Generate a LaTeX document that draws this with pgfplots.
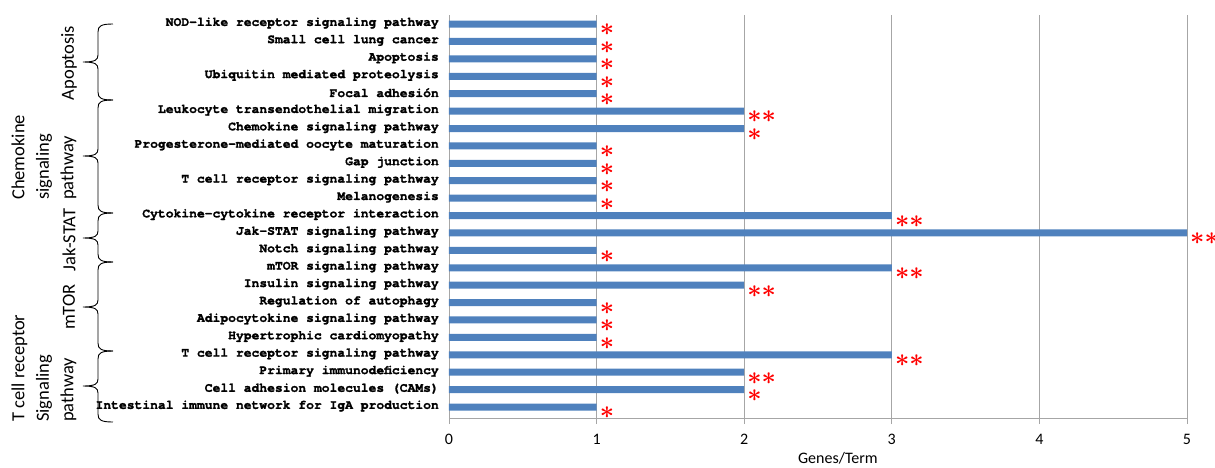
\documentclass[border=0pt]{standalone}
\usepackage{pgfplots}
\pgfplotsset{compat=1.18}
\usepackage{fontspec}
\setmainfont{Carlito}
\newfontfamily\cour[FakeBold=1.6]{texgyrecursor-bold.otf}
\definecolor{barblue}{HTML}{4F81BD}
\definecolor{gridgray}{HTML}{A6A6A6}
\newcommand{\gbrace}[3]{%
  \draw[black, line width=0.9pt] (113,#1) .. controls (101,#1) and (98,#1+2) .. (98,#1+8)
    -- (98,#2-7) .. controls (98,#2-2) and (95,#2) .. (83,#2)
    .. controls (95,#2) and (98,#2+2) .. (98,#2+7)
    -- (98,#3-8) .. controls (98,#3-2) and (101,#3) .. (113,#3);}
\begin{document}
\begin{tikzpicture}
\begin{axis}[
  scale only axis, width=738pt, height=403pt,
  xbar, bar width=7pt,
  xmin=0, xmax=5, ymin=-0.63, ymax=22.52,
  xtick={0,...,5}, ytick={0,...,22},
  yticklabels={Intestinal immune network for IgA production,
    Cell adhesion molecules (CAMs),
    Primary immunodeficiency,
    T cell receptor signaling pathway,
    Hypertrophic cardiomyopathy,
    Adipocytokine signaling pathway,
    Regulation of autophagy,
    Insulin signaling pathway,
    mTOR signaling pathway,
    Notch signaling pathway,
    Jak-STAT signaling pathway,
    Cytokine-cytokine receptor interaction,
    Melanogenesis,
    T cell receptor signaling pathway,
    Gap junction,
    Progesterone-mediated oocyte maturation,
    Chemokine signaling pathway,
    Leukocyte transendothelial migration,
    Focal adhesión,
    Ubiquitin mediated proteolysis,
    Apoptosis,
    Small cell lung cancer,
    NOD-like receptor signaling pathway},
  axis lines*=left,
  axis line style={gridgray, line width=0.8pt},
  xmajorgrids, grid style={gridgray, line width=0.8pt},
  tick align=outside, major tick length=6pt,
  x tick style={gridgray, line width=0.8pt},
  y tick style={draw=none},
  tick label style={font=\fontsize{16}{16}\selectfont},
  xticklabel style={yshift=-7pt},
  /pgf/number format/assume math mode=true,
  yticklabel style={font=\cour\fontsize{13}{13}\selectfont, inner xsep=0pt, xshift=-4pt, yshift=1pt},
  xlabel={Genes/Term},
  xlabel style={font=\fontsize{16}{16}\selectfont, at={(axis description cs:0.527,-0.0993)}, anchor=center},
  clip=false,
  nodes near coords, point meta=explicit symbolic,
  every node near coord/.append style={red, font=\boldmath\fontsize{25}{25}\selectfont, anchor=west, xshift=2pt, yshift=-6pt, inner sep=1pt},
]
\addplot[fill=barblue, draw=none] coordinates {
  (1,0) [$\ast$]
  (2,1) [$\ast$]
  (2,2) [$\ast\ast$]
  (3,3) [$\ast\ast$]
  (1,4) [$\ast$]
  (1,5) [$\ast$]
  (1,6) [$\ast$]
  (2,7) [$\ast\ast$]
  (3,8) [$\ast\ast$]
  (1,9) [$\ast$]
  (5,10) [$\ast\ast$]
  (3,11) [$\ast\ast$]
  (1,12) [$\ast$]
  (1,13) [$\ast$]
  (1,14) [$\ast$]
  (1,15) [$\ast$]
  (2,16) [$\ast$]
  (2,17) [$\ast\ast$]
  (1,18) [$\ast$]
  (1,19) [$\ast$]
  (1,20) [$\ast$]
  (1,21) [$\ast$]
  (1,22) [$\ast$]
};
\end{axis}
\begin{scope}[x=1pt, y=-1pt, shift={(-449pt,418pt)}]
  \gbrace{24}{62}{100}
  \gbrace{100}{156}{213}
  \gbrace{213}{238}{262}
  \gbrace{262}{307}{351}
  \gbrace{351}{386}{422}
  \begin{scope}[every node/.style={font=\fontsize{18.5}{24.5}\selectfont, rotate=90, inner sep=0pt}]
    \node[anchor=center] at (69,63) {Apoptosis};
    \node[anchor=west, align=left] at (44,200) {Chemokine\\signaling\\pathway};
    \node[anchor=center] at (69,240) {Jak-STAT};
    \node[anchor=center] at (69,307) {mTOR};
    \node[anchor=west, align=left] at (44,422) {T cell receptor\\Signaling\\pathway};
  \end{scope}
\end{scope}
\pgfresetboundingbox
\useasboundingbox (-449pt,-49pt) rectangle (766pt,418pt);
\end{tikzpicture}
\end{document}
